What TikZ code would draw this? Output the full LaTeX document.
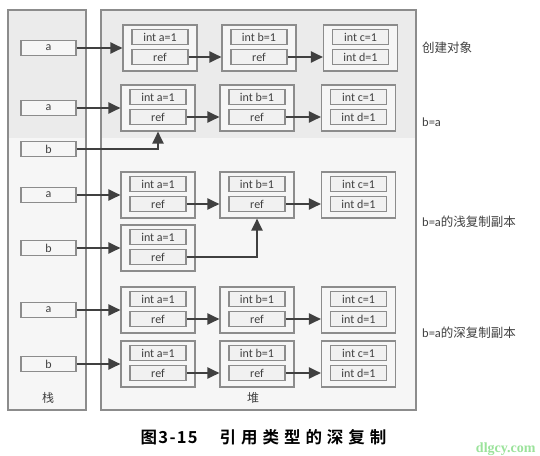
\documentclass[tikz,border=0pt]{standalone}
\usepackage{fontspec}
\setmainfont{Carlito}
\newfontfamily\zh{Noto Sans CJK SC}
\newfontfamily\zhcap[LetterSpace=30]{Noto Sans CJK SC Bold}
\newfontfamily\zhnum[LetterSpace=8]{Noto Sans CJK SC Bold}
\newfontfamily\wmfont{Liberation Serif}
\usetikzlibrary{positioning, arrows.meta}

\definecolor{bandgray}{HTML}{EBEBEB}
\definecolor{panelgray}{HTML}{F6F6F6}
\definecolor{edgegray}{HTML}{8C8C8C}
\definecolor{inkgray}{HTML}{404040}
\definecolor{wmgreen}{HTML}{9BE39B}

% heap object: name, x, y, upper cell, lower cell
\newcommand{\heapobj}[5]{%
  \node[objbox] (#1) at (#2,#3) {};
  \node[cellbox] (#1t) at (#2,#3-11) {#4};
  \node[cellbox] (#1r) at (#2,#3+9) {#5};
}

\begin{document}
\begin{tikzpicture}[x=1pt, y=-1pt,
  panel/.style={draw=edgegray, line width=1.2pt},
  stackbox/.style={draw=edgegray, fill=panelgray, line width=1.1pt, minimum width=55pt, minimum height=15pt, inner sep=0pt, font=\fontsize{12}{13}\selectfont, text=inkgray},
  objbox/.style={draw=edgegray, fill=panelgray, line width=1.1pt, minimum width=74pt, minimum height=46pt, inner sep=0pt},
  cellbox/.style={draw=edgegray, fill=bandgray!70, line width=1.1pt, minimum width=56pt, minimum height=15pt, inner sep=0pt, font=\fontsize{12}{13}\selectfont, text=inkgray},
  arrow/.style={-{Triangle[length=12pt, width=11pt]}, line width=2.2pt, draw=inkgray},
  note/.style={anchor=west, inner sep=0pt, font=\fontsize{12.5}{14}\selectfont, text=inkgray}
]
\useasboundingbox (0,0) rectangle (540,455);
\fill[white] (0,0) rectangle (540,455);

\fill[bandgray] (8,10) rectangle (86,138);
\fill[panelgray] (8,138) rectangle (86,410);
\fill[bandgray] (101,10) rectangle (416,138);
\fill[panelgray] (101,138) rectangle (416,410);
\draw[panel] (8,10) rectangle (86,410);
\draw[panel] (101,10) rectangle (416,410);
\node[text=inkgray, font=\zh\fontsize{12}{14}\selectfont] (stk) at (48,398) {栈};
\node[text=inkgray, font=\zh\fontsize{12}{14}\selectfont] (hp) at (253,398) {堆};

\node[stackbox] (sa1) at (48.5,48) {a};
\node[stackbox] (sa2) at (48.5,108) {a};
\node[stackbox] (sb2) at (48.5,149) {b};
\node[stackbox] (sa3) at (48.5,195) {a};
\node[stackbox] (sb3) at (48.5,248) {b};
\node[stackbox] (sa4) at (48.5,310) {a};
\node[stackbox] (sb4) at (48.5,364) {b};

\heapobj{o11}{160}{48}{int a=1}{ref}
\heapobj{o12}{259}{48}{int b=1}{ref}
\heapobj{o13}{360.5}{48}{int c=1}{int d=1}
\heapobj{o21}{158}{108}{int a=1}{ref}
\heapobj{o22}{257}{108}{int b=1}{ref}
\heapobj{o23}{358.5}{108}{int c=1}{int d=1}
\heapobj{o31}{158}{195}{int a=1}{ref}
\heapobj{o32}{257}{195}{int b=1}{ref}
\heapobj{o33}{358.5}{195}{int c=1}{int d=1}
\heapobj{o3b}{158}{248}{int a=1}{ref}
\heapobj{o41}{158}{310}{int a=1}{ref}
\heapobj{o42}{257}{310}{int b=1}{ref}
\heapobj{o43}{358.5}{310}{int c=1}{int d=1}
\heapobj{o51}{158}{364}{int a=1}{ref}
\heapobj{o52}{257}{364}{int b=1}{ref}
\heapobj{o53}{358.5}{364}{int c=1}{int d=1}

\foreach \r/\s in {1/a1, 2/a2, 3/a3, 4/a4, 5/b4} {
  \draw[arrow] (s\s) -- (o\r1);
  \draw[arrow] (o\r1r.east) -- (o\r1r.east -| o\r2.west);
  \draw[arrow] (o\r2r.east) -- (o\r2r.east -| o\r3.west);
}
\draw[arrow] (sb2.east) -| (o21.south);
\draw[arrow] (sb3) -- (o3b);
\draw[arrow] (o3br.east) -| (o32.south);

\node[note] (n1) at (422,48) {\zh 创建对象};
\node[note] (n2) at (422,122) {b=a};
\node[note] (n3) at (422,222) {b=a{\zh 的浅复制副本}};
\node[note] (n4) at (422,333) {b=a{\zh 的深复制副本}};

\node[font=\fontsize{16.5}{18}\selectfont] (cap) at (263.5,437) {{\zhnum 图3-15}\hspace{22pt}{\zhcap 引用类型的深复制}};
\node[anchor=east, text=wmgreen, font=\wmfont\bfseries\fontsize{14}{16}\selectfont] (wm) at (539,449) {dlgcy.com};
\end{tikzpicture}
\end{document}
